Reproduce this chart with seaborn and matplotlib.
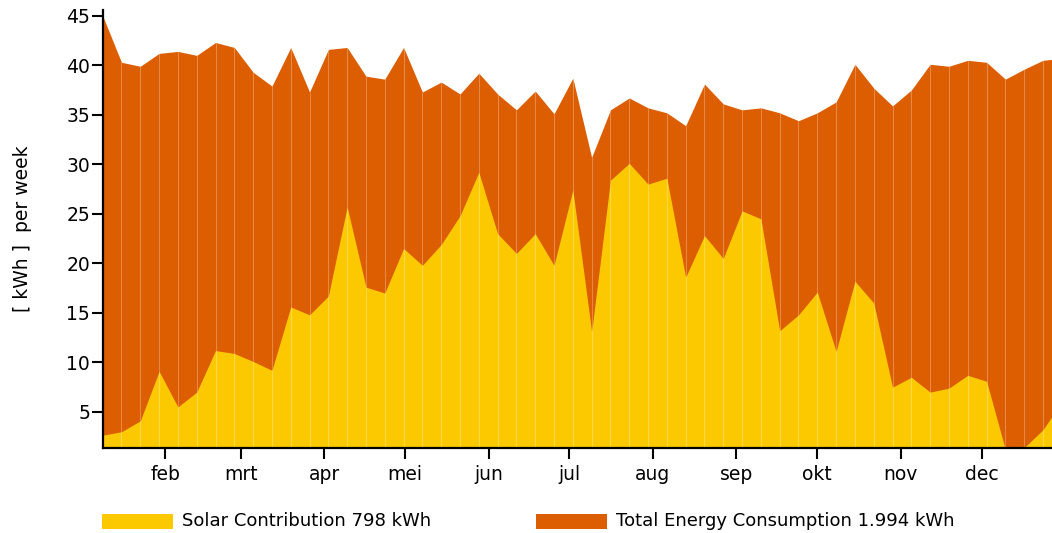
import numpy as np
import pandas as pd
import matplotlib
matplotlib.use("Agg")
import matplotlib.pyplot as plt
import seaborn as sns
from matplotlib.patches import Rectangle

# ---- data ----
week_start = "2013-01-08 19:00"
solar = [2.65, 3.0, 4.1, 9.1, 5.5, 7.0, 11.2, 10.9, 10.1, 9.2, 15.6, 14.8, 16.7, 25.7,
         17.6, 17.0, 21.5, 19.8, 21.9, 24.8, 29.2, 23.0, 21.0, 23.0, 19.8, 27.4, 13.1, 28.4,
         30.1, 28.0, 28.6, 18.6, 22.8, 20.5, 25.3, 24.5, 13.2, 14.8, 17.1, 11.1, 18.2, 16.0,
         7.5, 8.5, 7.0, 7.4, 8.7, 8.1, 1.2, 1.4, 3.2, 6.0]
total = [45.0, 40.3, 39.9, 41.2, 41.4, 41.0, 42.3, 41.8, 39.3, 37.9, 41.8, 37.3, 41.6, 41.8,
         38.9, 38.6, 41.8, 37.3, 38.3, 37.1, 39.2, 37.1, 35.5, 37.4, 35.1, 38.7, 30.7, 35.5,
         36.7, 35.7, 35.2, 33.9, 38.1, 36.1, 35.5, 35.7, 35.2, 34.4, 35.2, 36.3, 40.1, 37.7,
         35.9, 37.5, 40.1, 39.9, 40.5, 40.3, 38.6, 39.6, 40.5, 40.7]
month_labels = ["feb", "mrt", "apr", "mei", "jun", "jul", "aug", "sep", "okt", "nov", "dec"]
y_ticks = [5, 10, 15, 20, 25, 30, 35, 40, 45]
y_label = "[ kWh ]  per week"
legend_labels = ["Solar Contribution 798 kWh", "Total Energy Consumption 1.994 kWh"]

YELLOW = "#FCC900"
ORANGE = "#DC5E00"

sns.set_style("ticks")
plt.rcParams['font.family'] = ['DejaVu Sans']

weeks = pd.date_range(week_start, periods=len(total), freq="167h30min")
df = pd.DataFrame({"week": weeks, "solar": solar, "total": total})

fig = plt.figure(figsize=(10.52, 5.33), dpi=100)
ax = fig.add_axes([102.7 / 1052, 85 / 533, 949.3 / 1052, 438 / 533])

sns.lineplot(data=df, x="week", y="total", ax=ax, color=ORANGE, lw=0)
sns.lineplot(data=df, x="week", y="solar", ax=ax, color=YELLOW, lw=0)
ax.fill_between(df["week"], 0, df["total"], color=ORANGE, lw=0, zorder=1)
ax.fill_between(df["week"], 0, df["solar"], color=YELLOW, lw=0, zorder=2)
ax.vlines(df["week"], 0, df["total"], color="white", alpha=0.28, lw=0.8, zorder=3)

year0 = pd.Timestamp("2013-01-01")
ax.set_xlim(year0 + pd.Timedelta(days=7.8), year0 + pd.Timedelta(days=360.1))
ax.set_ylim(1.36, 45.58)

ax.set_xticks([pd.Timestamp(2013, m, 1) for m in range(2, 13)])
ax.set_xticklabels(month_labels)
ax.set_yticks(y_ticks)
ax.set_yticklabels([str(v) for v in y_ticks])

for s in ["top", "right"]:
    ax.spines[s].set_visible(False)
for s in ["left", "bottom"]:
    ax.spines[s].set_linewidth(1.6)
    ax.spines[s].set_color("black")
    ax.spines[s].set_zorder(5)

ax.tick_params(axis="y", length=8, width=1.5, pad=1, labelsize=13.5, colors="black")
ax.tick_params(axis="x", length=8, width=1.5, pad=4, labelsize=13.5, colors="black")

ax.set_xlabel("")
ax.set_ylabel(y_label, fontsize=13.5, color="black")
ax.yaxis.set_label_coords(-0.0745, 0.5)

# legend drawn below the axes
sw_y = (533 - 528.5) / 533
sw_h = 15 / 533
for x0, x1, tx, col, lab in [(102, 173, 181.7, YELLOW, legend_labels[0]),
                             (536, 607, 616.0, ORANGE, legend_labels[1])]:
    fig.add_artist(Rectangle((x0 / 1052, sw_y), (x1 - x0) / 1052, sw_h,
                             transform=fig.transFigure, color=col, lw=0))
    fig.text(tx / 1052, (533 - 521) / 533, lab, fontsize=13, va="center",
             ha="left", color="black")

fig.savefig("out.png", dpi=100, facecolor="white")
